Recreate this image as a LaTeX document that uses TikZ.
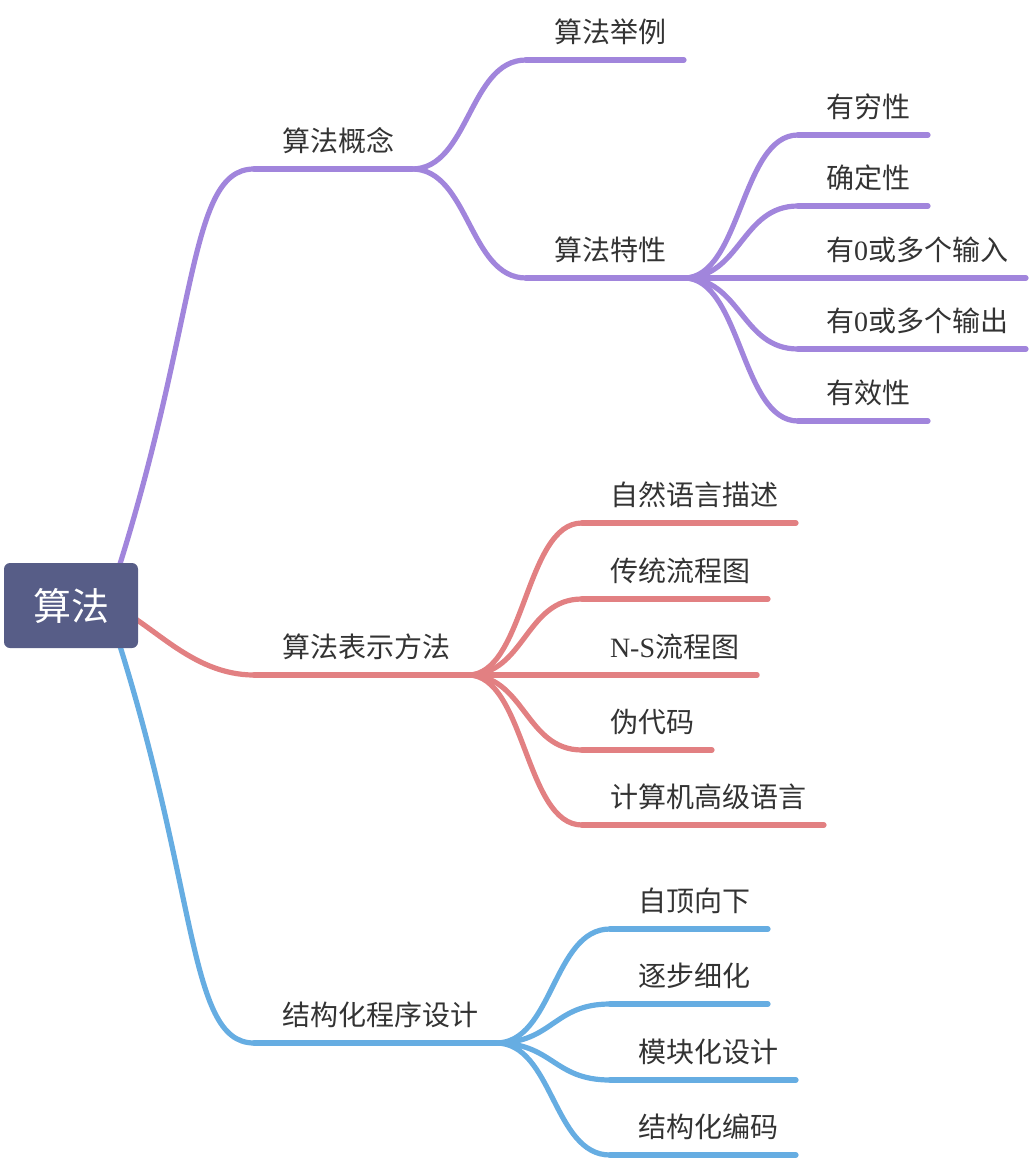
\documentclass[tikz,border=0pt]{standalone}
\usepackage{fontspec}
\setmainfont{Noto Sans CJK SC}
\newfontfamily\latinserif{Liberation Serif}
\usetikzlibrary{backgrounds}
\definecolor{rootfill}{RGB}{87,93,135}
\definecolor{purpline}{RGB}{161,133,220}
\definecolor{redline}{RGB}{226,128,130}
\definecolor{blueline}{RGB}{102,173,226}
\definecolor{textgray}{RGB}{51,51,51}
\begin{document}
\begin{tikzpicture}[x=0.5pt,y=-0.5pt,
  rootbox/.style={fill=rootfill,rounded corners=3pt,text=white,inner sep=0pt,outer sep=0pt,
    minimum width=67pt,minimum height=42.5pt,font=\fontsize{19}{23}\selectfont},
  topic/.style={anchor=south west,inner xsep=0pt,inner ysep=8.7pt,outer sep=0pt,text depth=0pt,
    text=textgray,font=\fontsize{14}{17}\selectfont,
    execute at begin node=\hspace*{14pt},execute at end node=\hspace*{9pt}},
  branch/.style={line width=2.6pt,line cap=round},
  curve/.style={branch,to path={.. controls +(57,0) and +(-57,0) .. (\tikztotarget)}}]
\useasboundingbox (0,0) rectangle (1028,1160);
% central topic
\node[rootbox] (root) at (71,605.5) {算法};
\coordinate (hubA) at (105,610);
\coordinate (hubB) at (110,605);
\coordinate (hubC) at (105,600);
% main topics
\node[topic] (gainian) at (254,169) {算法概念};
\node[topic] (biaoshi) at (254,675) {算法表示方法};
\node[topic] (jiegou) at (254,1043) {结构化程序设计};
% subtopics: concept
\node[topic] (juli) at (526,60) {算法举例};
\node[topic] (texing) at (526,278) {算法特性};
\node[topic] (qiong) at (798,135) {有穷性};
\node[topic] (queding) at (798,206) {确定性};
\node[topic] (shuru) at (798,278) {有{\latinserif 0}或多个输入};
\node[topic] (shuchu) at (798,349) {有{\latinserif 0}或多个输出};
\node[topic] (youxiao) at (798,421) {有效性};
% subtopics: representation
\node[topic] (ziran) at (582,523) {自然语言描述};
\node[topic] (chuantong) at (582,599) {传统流程图};
\node[topic] (nsliu) at (582,675) {{\latinserif N-S}流程图};
\node[topic] (weidai) at (582,750) {伪代码};
\node[topic] (gaoji) at (582,825) {计算机高级语言};
% subtopics: structured design
\node[topic] (ziding) at (610,929) {自顶向下};
\node[topic] (zhubu) at (610,1004) {逐步细化};
\node[topic] (mokuai) at (610,1080) {模块化设计};
\node[topic] (bianma) at (610,1155) {结构化编码};
\begin{scope}[on background layer]
\draw[branch,purpline] (hubA) .. controls (200,330) and (185,169) .. (gainian.south west);
\draw[branch,redline] (hubB) .. controls (150,620) and (190,675) .. (biaoshi.south west);
\draw[branch,blueline] (hubC) .. controls (200,880) and (185,1043) .. (jiegou.south west);
\end{scope}
% purple branch
\foreach \n in {gainian,juli,texing,qiong,queding,shuru,shuchu,youxiao}
  \draw[branch,purpline] (\n.south west) -- (\n.south east);
\foreach \n in {juli,texing}
  \draw[curve,purpline] (gainian.south east) to (\n.south west);
\foreach \n in {qiong,queding,shuru,shuchu,youxiao}
  \draw[curve,purpline] (texing.south east) to (\n.south west);
% red branch
\foreach \n in {biaoshi,ziran,chuantong,nsliu,weidai,gaoji}
  \draw[branch,redline] (\n.south west) -- (\n.south east);
\foreach \n in {ziran,chuantong,nsliu,weidai,gaoji}
  \draw[curve,redline] (biaoshi.south east) to (\n.south west);
% blue branch
\foreach \n in {jiegou,ziding,zhubu,mokuai,bianma}
  \draw[branch,blueline] (\n.south west) -- (\n.south east);
\foreach \n in {ziding,zhubu,mokuai,bianma}
  \draw[curve,blueline] (jiegou.south east) to (\n.south west);
\end{tikzpicture}
\end{document}
